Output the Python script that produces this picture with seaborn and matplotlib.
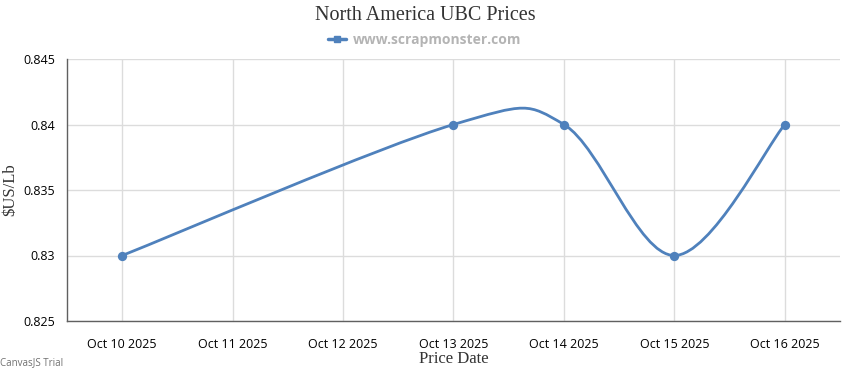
import numpy as np
import pandas as pd
import matplotlib
matplotlib.use("Agg")
import matplotlib.pyplot as plt
from matplotlib.path import Path
from matplotlib.patches import PathPatch
from matplotlib.lines import Line2D
from matplotlib.ticker import FuncFormatter
import seaborn as sns

# chart data
date_labels = ["Oct 10 2025", "Oct 11 2025", "Oct 12 2025", "Oct 13 2025",
               "Oct 14 2025", "Oct 15 2025", "Oct 16 2025"]
price_dates = ["Oct 10 2025", "Oct 13 2025", "Oct 14 2025", "Oct 15 2025", "Oct 16 2025"]
prices = [0.83, 0.84, 0.84, 0.83, 0.84]
y_ticks = [0.825, 0.83, 0.835, 0.84, 0.845]

line_color = "#4F81BC"
grid_color = "#DCDCDC"
axis_color = "#606060"


def spline_path(xs, ys):
    """Catmull-Rom style bezier through the points (same as CanvasJS spline)"""
    pts = np.column_stack([xs, ys])
    n = len(pts)
    verts = [pts[0]]
    codes = [Path.MOVETO]
    for i in range(1, n):
        a = i - 1
        d1 = (pts[min(a + 1, n - 1)] - pts[max(a - 1, 0)]) / 2.0
        d2 = (pts[min(i + 1, n - 1)] - pts[max(i - 1, 0)]) / 2.0
        verts += [pts[a] + d1 / 3.0, pts[i] - d2 / 3.0, pts[i]]
        codes += [Path.CURVE4] * 3
    return Path(verts, codes)


df = pd.DataFrame({"date": price_dates, "price": prices})
df["pos"] = df["date"].map({d: i for i, d in enumerate(date_labels)})

sns.set_style("white")
plt.rcParams["font.family"] = ["Open Sans", "DejaVu Sans"]

fig = plt.figure(figsize=(8.5, 3.7), dpi=100)
ax = fig.add_axes([67 / 850, 1 - 321 / 370, (840 - 67) / 850, (321 - 59) / 370])

patch = PathPatch(spline_path(df["pos"].values, df["price"].values),
                  facecolor="none", edgecolor=line_color, lw=2, zorder=3)
ax.add_patch(patch)
sns.scatterplot(data=df, x="pos", y="price", ax=ax, color=line_color,
                s=45, edgecolor=line_color, linewidth=0, zorder=4, legend=False)

ax.set_xlim(-0.5, 6.5)
ax.set_ylim(0.825, 0.845)
ax.set_xticks(range(len(date_labels)))
ax.set_xticklabels(date_labels)
ax.set_yticks(y_ticks)
ax.yaxis.set_major_formatter(FuncFormatter(lambda v, p: f"{v:g}"))

ax.grid(True, color=grid_color, lw=1)
ax.set_axisbelow(True)
for side in ["top", "right"]:
    ax.spines[side].set_visible(False)
for side in ["left", "bottom"]:
    ax.spines[side].set_color(axis_color)
    ax.spines[side].set_linewidth(1)
ax.tick_params(axis="both", colors=axis_color, length=5, width=1,
               labelsize=9, labelcolor="#000000")
ax.tick_params(axis="x", pad=7)

ax.set_xlabel("Price Date", family="Liberation Serif", fontsize=12,
              color="#333333", labelpad=0)
ax.set_ylabel(r"\$US/Lb", family="Liberation Serif", fontsize=12,
              color="#333333", va="center")
ax.yaxis.set_label_coords(-57 / 773, 0.5)

fig.text(0.5, 1 - 16 / 370, "North America UBC Prices", ha="center", va="center",
         family="Liberation Serif", fontsize=14.5, color="#333333")

handle = Line2D([], [], color=line_color, lw=2.5, marker="s", markersize=5)
fig.legend([handle], ["www.scrapmonster.com"], loc="center",
           bbox_to_anchor=(0.5, 1 - 40 / 370), frameon=False, handlelength=1.3,
           handletextpad=0.5, prop={"weight": "bold", "size": 10},
           labelcolor="#B4B4B4")

fig.text(0.0, 1 - 363 / 370, "CanvasJS Trial", ha="left", va="center",
         fontsize=7, color="#707070")

fig.savefig("out.png", dpi=100)
